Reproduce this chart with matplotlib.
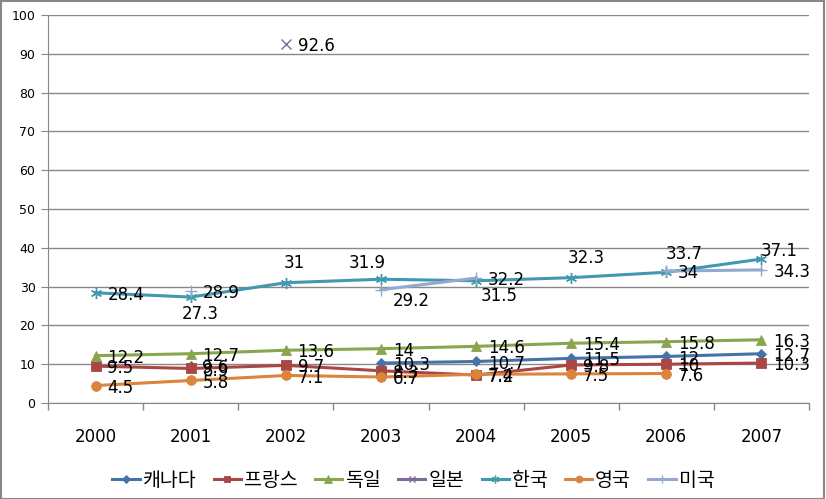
import numpy as np
from matplotlib import pyplot as plt
from matplotlib.patches import Rectangle

years = ["2000", "2001", "2002", "2003", "2004", "2005", "2006", "2007"]
nan = np.nan

canada = [nan, 9.6, nan, 10.3, 10.7, 11.5, 12, 12.7]
france = [9.5, 8.9, 9.7, 8.3, 7.2, 9.8, 10, 10.3]
germany = [12.2, 12.7, 13.6, 14, 14.6, 15.4, 15.8, 16.3]
japan = [nan, nan, 92.6, nan, nan, nan, nan, nan]
korea = [28.4, 27.3, 31, 31.9, 31.5, 32.3, 33.7, 37.1]
uk = [4.5, 5.8, 7.1, 6.7, 7.4, 7.5, 7.6, nan]
usa = [nan, 28.9, nan, 29.2, 32.2, nan, 34, 34.3]

names = ["캐나다", "프랑스", "독일", "일본", "한국", "영국", "미국"]
series = [canada, france, germany, japan, korea, uk, usa]
colors = ["#4572A7", "#AA4643", "#89A54E", "#80699B", "#4198AF", "#DB843D", "#93A9CF"]
asterisk = (6, 2, 0)
markers = ["D", "s", "^", "x", asterisk, "o", "+"]
msizes = [5.5, 7, 7.5, 7, 8, 7, 9]

# label placement per point: (dx, dy in points, ha)
R = (8.5, -1.5, "left")
right = [R] * 8
korea_off = [R, (7, -12, "center"), (6, 14, "center"), (-10, 12, "center"),
             (17, -11, "center"), (11, 14, "center"), (13, 13, "center"), (13, 6, "center")]
usa_off = [R] * 3 + [(8.5, -8, "left")] + [R] * 4
offsets = [right, right, right, right, korea_off, right, usa_off]

fig = plt.figure(figsize=(8.26, 4.99), dpi=100)
ax = fig.add_axes([48 / 826, 96 / 499, 761 / 826, 388 / 499])
x = np.arange(len(years))

for i in range(len(series)):
    y = np.array(series[i], dtype=float)
    mk = markers[i]
    thin = mk in ["x", "+"] or mk == asterisk
    ax.plot(x, y, color=colors[i], lw=2.2, marker=mk, ms=msizes[i],
            mew=1.0 if thin else 0.6, label=names[i], zorder=3)
    for j in range(len(years)):
        if not np.isnan(y[j]):
            v = y[j]
            txt = str(int(v)) if v == int(v) else str(v)
            dx, dy, ha = offsets[i][j]
            ax.annotate(txt, (x[j], v), xytext=(dx, dy), textcoords="offset points",
                        fontsize=12, color="black", ha=ha, va="center", zorder=5)

ax.set_xlim(-0.5, 7.5)
ax.set_ylim(0, 100)
ax.set_yticks(range(0, 101, 10))
ax.set_xticks(x)
ax.set_xticklabels(years, fontsize=12)
ax.set_xticks(np.arange(-0.5, 8, 1), minor=True)
ax.tick_params(axis="x", which="major", length=0, pad=18)
ax.tick_params(axis="x", which="minor", length=5, color="#888888", width=1)
ax.tick_params(axis="y", labelsize=9, length=5, color="#888888", pad=4)
ax.grid(axis="y", color="#888888", lw=1)
ax.set_axisbelow(True)
for s in ["top", "right"]:
    ax.spines[s].set_visible(False)
for s in ["left", "bottom"]:
    ax.spines[s].set_color("#888888")

ax.legend(loc="center", bbox_to_anchor=(0.48, -0.2), ncol=7, frameon=False,
          prop={"family": ["Noto Sans CJK KR", "DejaVu Sans"], "size": 14},
          handlelength=1.4, handletextpad=0.15, columnspacing=0.9, markerscale=0.7)

fig.add_artist(Rectangle((0.001, 0.001), 0.997, 0.997, transform=fig.transFigure,
                         fill=False, edgecolor="#888888", lw=1.5))

fig.savefig("out.png", dpi=100)
